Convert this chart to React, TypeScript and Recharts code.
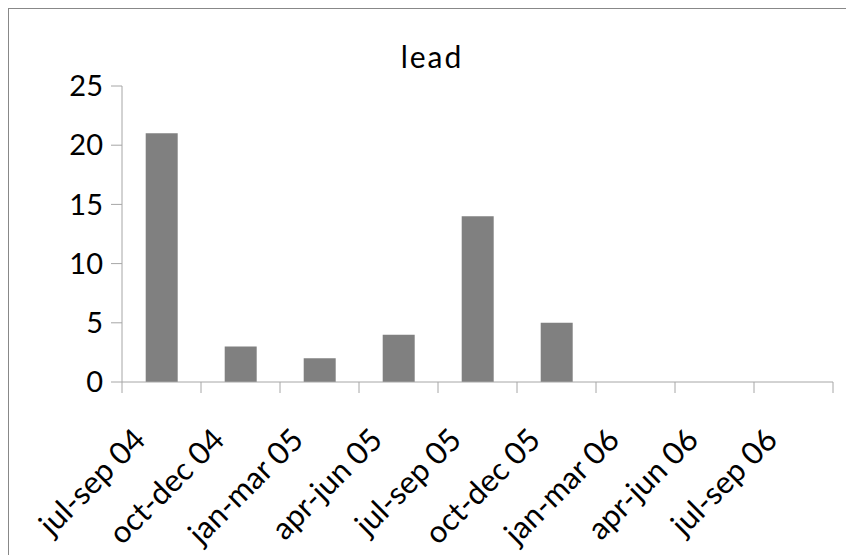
import { BarChart, Bar, XAxis, YAxis } from "recharts"

const periods = [
  "jul-sep 04",
  "oct-dec 04",
  "jan-mar 05",
  "apr-jun 05",
  "jul-sep 05",
  "oct-dec 05",
  "jan-mar 06",
  "apr-jun 06",
  "jul-sep 06",
]
const leadCounts = [21, 3, 2, 4, 14, 5, 0, 0, 0]
const yTicks = [0, 5, 10, 15, 20, 25]

const data = periods.map((period, i) => ({ period, lead: leadCounts[i] }))

const FONT = "Lato, 'Open Sans', sans-serif"
const AXIS = "#a6a6a6"

// x tick: rotated label plus a tick mark on the category's left edge
// (and on the right edge for the last one), like a spreadsheet chart
function PeriodTick(props: any) {
  const { x, y, payload, index, visibleTicksCount } = props
  const half = payload.offset || 0
  const isLast = index === visibleTicksCount - 1
  return (
    <g>
      <line x1={x - half} x2={x - half} y1={y} y2={y + 11} stroke={AXIS} />
      {isLast && (
        <line x1={x + half} x2={x + half} y1={y} y2={y + 11} stroke={AXIS} />
      )}
      <text
        transform={`translate(${x - 30},${y + 44}) rotate(-45)`}
        textAnchor="end"
        dy="0.72em"
        fontSize={31}
        fontFamily={FONT}
        fill="#000"
      >
        {payload.value}
      </text>
    </g>
  )
}

export default function App() {
  return (
    <div
      style={{
        position: "absolute",
        left: 0,
        top: 0,
        width: 846,
        height: 555,
        overflow: "hidden",
        background: "#fff",
      }}
    >
      <div
        style={{
          position: "absolute",
          left: 8,
          top: 8,
          width: 838,
          height: 547,
          borderLeft: "1px solid #888",
          borderTop: "1px solid #888",
        }}
      />
      <div
        style={{
          position: "absolute",
          left: 332,
          width: 200,
          top: 38,
          textAlign: "center",
          fontFamily: FONT,
          fontSize: 30,
          letterSpacing: 2,
          lineHeight: "36px",
        }}
      >
        lead
      </div>
      <BarChart
        width={846}
        height={555}
        data={data}
        margin={{ top: 86, right: 13, bottom: 0, left: 0 }}
        barCategoryGap="30%"
        style={{ position: "absolute", left: 0, top: 0 }}
      >
        <XAxis
          dataKey="period"
          interval={0}
          stroke={AXIS}
          tickLine={false}
          tickSize={0}
          tickMargin={0}
          height={173}
          tick={<PeriodTick />}
        />
        <YAxis
          domain={[0, 25]}
          ticks={yTicks}
          width={122}
          tickSize={11}
          tickMargin={8}
          stroke={AXIS}
          tick={{ fill: "#000", fontSize: 29, fontFamily: FONT }}
        />
        <Bar dataKey="lead" fill="#808080" isAnimationActive={false} />
      </BarChart>
    </div>
  )
}
